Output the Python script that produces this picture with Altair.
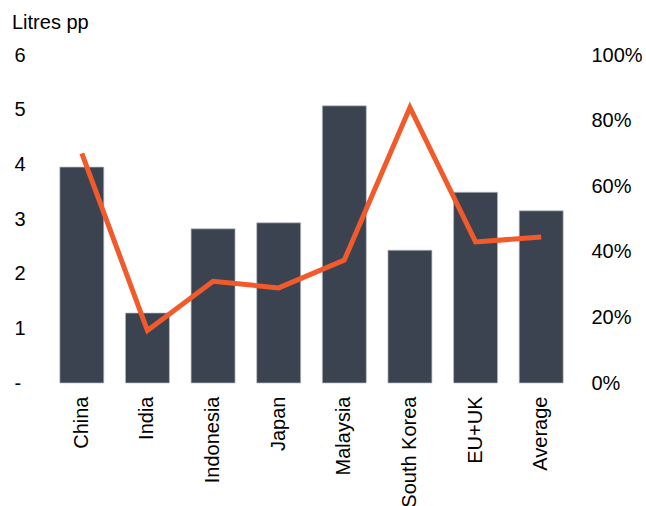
import altair as alt
import pandas as pd

countries = ["China", "India", "Indonesia", "Japan", "Malaysia", "South Korea", "EU+UK", "Average"]
litres = [3.95, 1.28, 2.82, 2.93, 5.07, 2.43, 3.49, 3.15]
share = [0.70, 0.16, 0.31, 0.29, 0.375, 0.84, 0.43, 0.445]

df = pd.DataFrame({"country": countries, "litres": litres, "share": share})

FONT = "Liberation Sans"
FS = 20

x = alt.X("country:N", sort=countries, title=None,
          scale=alt.Scale(paddingInner=0.33, paddingOuter=0.165),
          axis=alt.Axis(labelAngle=-90, labelFontSize=FS, labelFont=FONT, labelColor="#000",
                        ticks=False, domain=False, labelPadding=13, labelLimit=300))

bars = alt.Chart(df).mark_bar(color="#3b4350", stroke="#b8bcc4", strokeWidth=0.7).encode(
    x=x,
    y=alt.Y("litres:Q", title=None, scale=alt.Scale(domain=[0, 6], nice=False),
            axis=alt.Axis(values=[0, 1, 2, 3, 4, 5, 6], grid=False, ticks=False, domain=False,
                          labelAlign="left", labelPadding=35, labelFontSize=FS, labelFont=FONT,
                          labelColor="#000",
                          labelExpr="datum.value == 0 ? '-' : datum.label"))
)

line = alt.Chart(df).mark_line(color="#f15a2b", strokeWidth=5).encode(
    x=x,
    y=alt.Y("share:Q", title=None, scale=alt.Scale(domain=[0, 1], nice=False),
            axis=alt.Axis(orient="right", values=[0, 0.2, 0.4, 0.6, 0.8, 1.0], format=".0%",
                          grid=False, ticks=False, domain=False, labelPadding=17,
                          labelFontSize=FS, labelFont=FONT, labelColor="#000"))
)

chart = alt.layer(bars, line).resolve_scale(y="independent").properties(
    width=525, height=328,
    autosize=alt.AutoSizeParams(type="none"),
    padding={"left": 49, "top": 55, "right": 72, "bottom": 123},
    title=alt.TitleParams("Litres pp", anchor="start", fontSize=FS, font=FONT,
                          fontWeight="normal", color="#000", dx=-2, offset=12),
).configure_view(stroke=None)

chart.save("out.html", embed_options={"renderer": "svg", "actions": False})
